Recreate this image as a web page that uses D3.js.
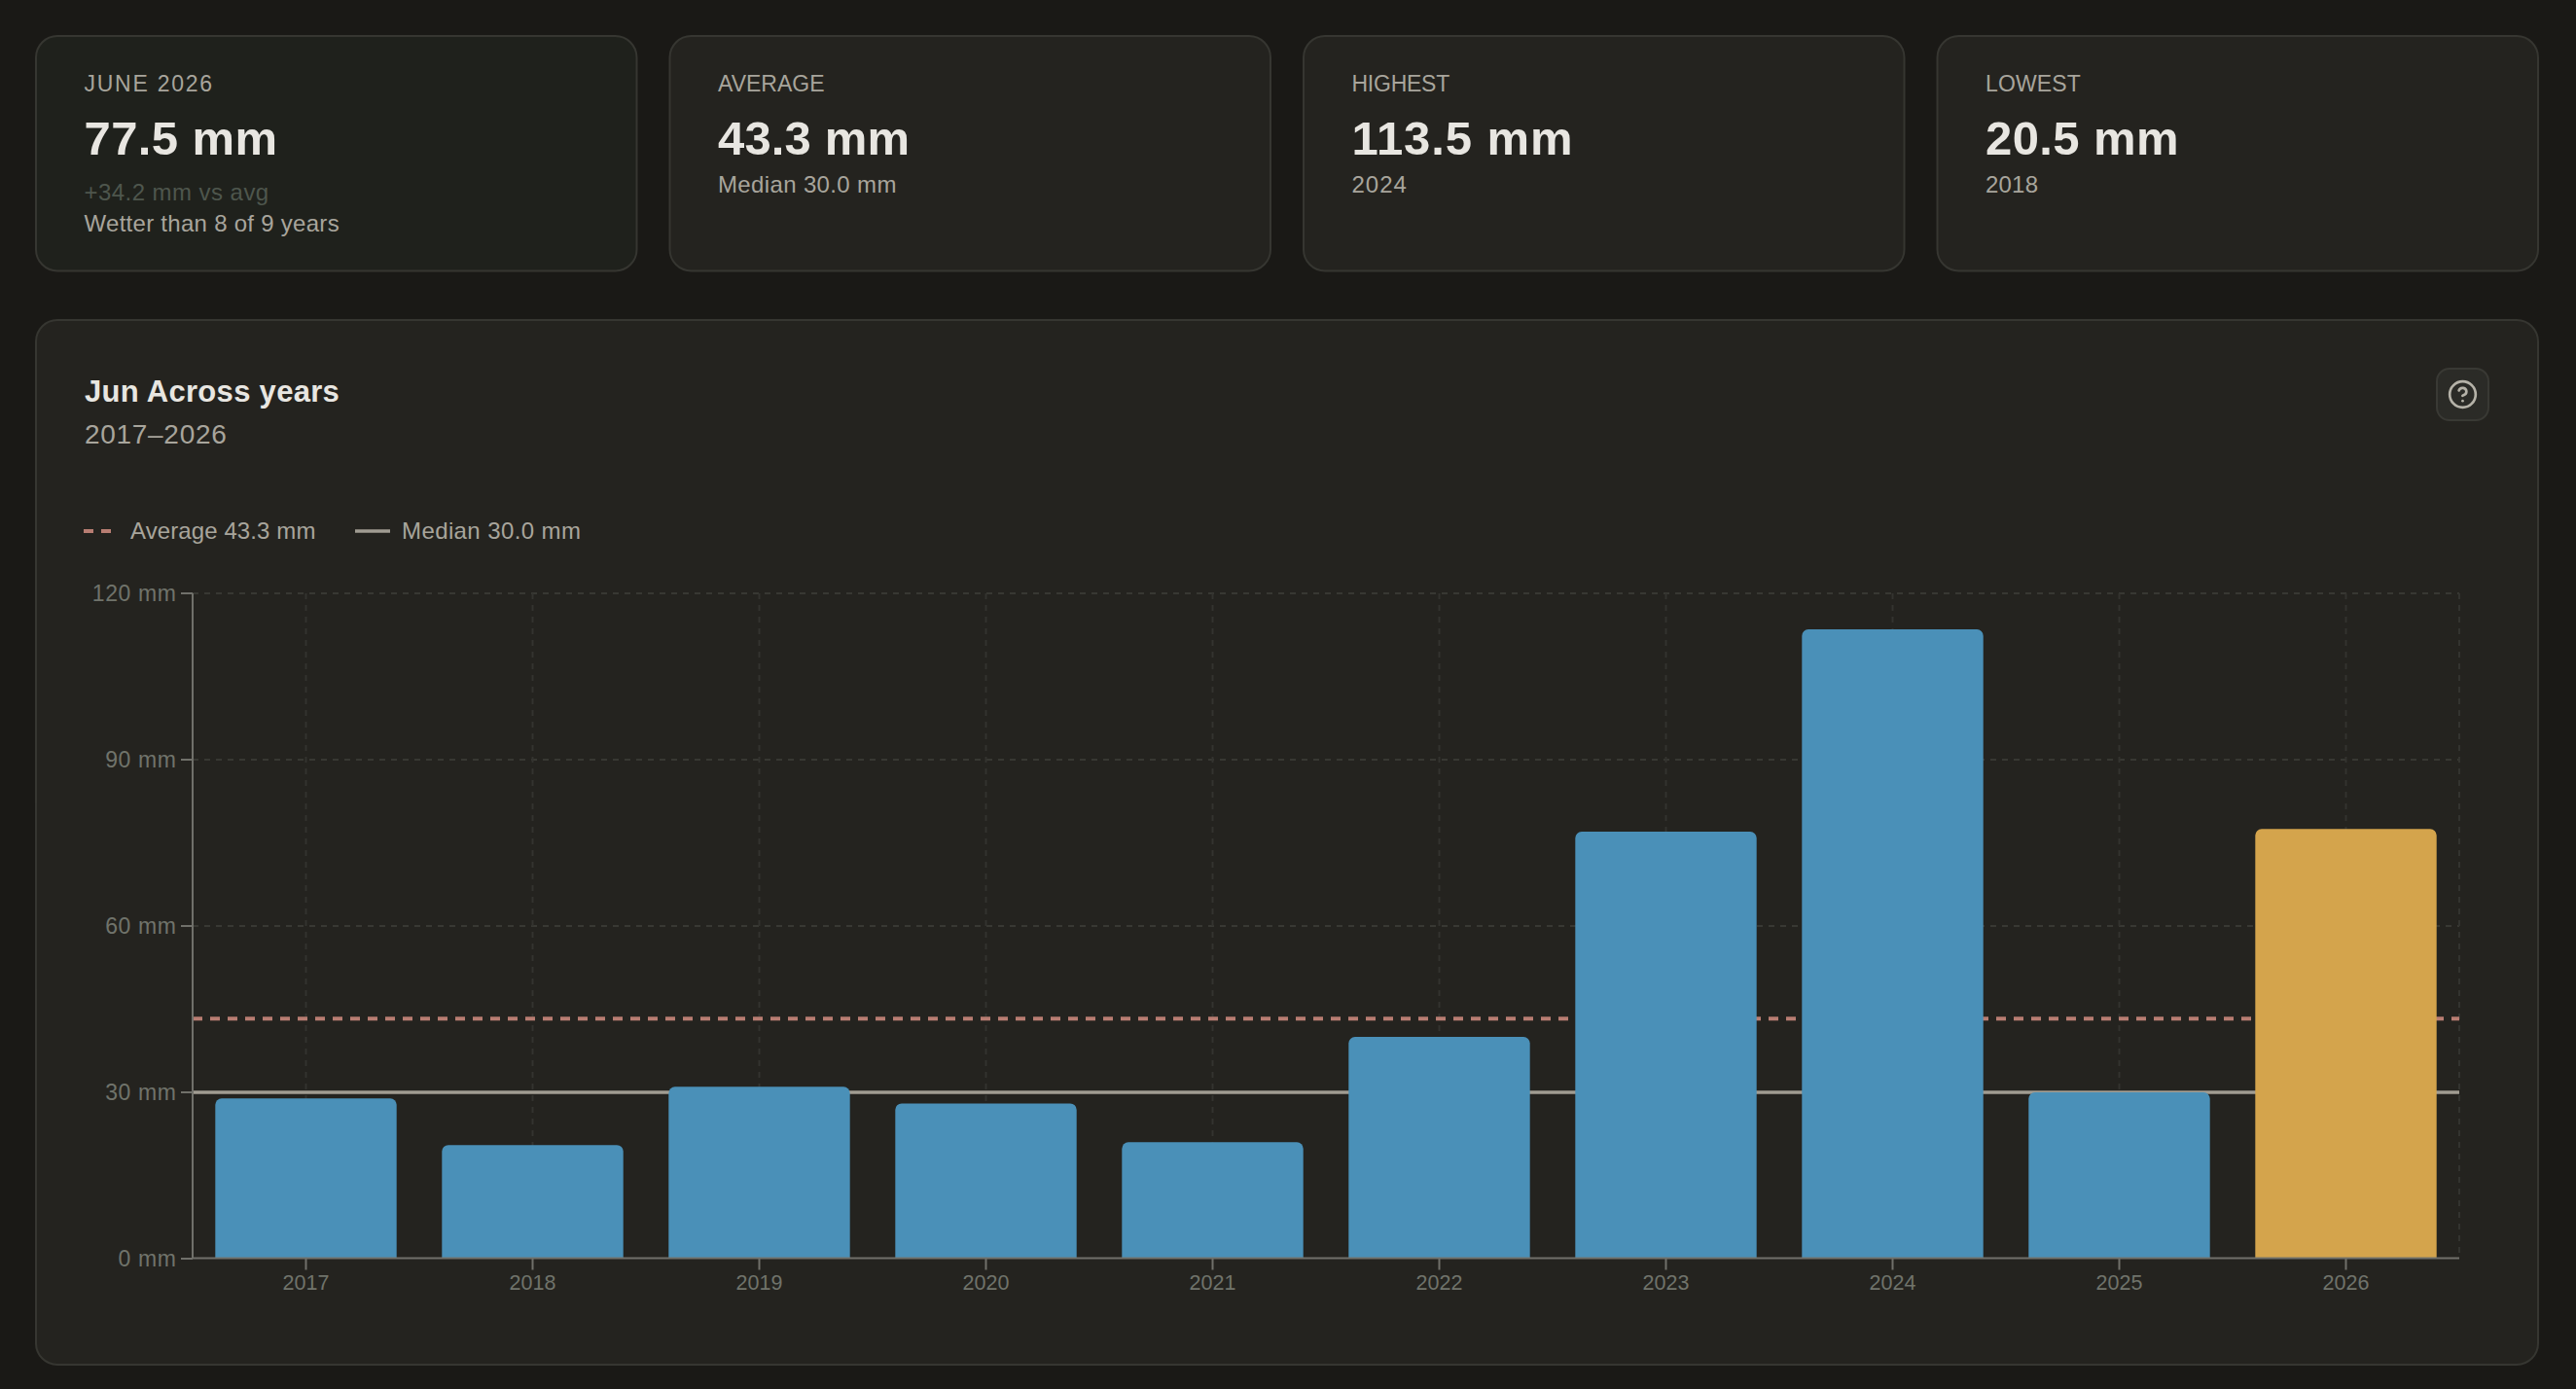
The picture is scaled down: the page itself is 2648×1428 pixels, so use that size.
<!DOCTYPE html>
<html><head><meta charset="utf-8">
<style>html,body{margin:0;padding:0;background:#1a1916;overflow:hidden}svg{display:block}text{font-family:"Liberation Sans",sans-serif}</style>
<script src="https://cdn.jsdelivr.net/npm/d3@7"></script>
</head><body><svg id="c"></svg>
<script>
const years = [2017,2018,2019,2020,2021,2022,2023,2024,2025,2026];
const rainfall = [28.9,20.5,31.0,28.0,21.0,40.0,77.0,113.5,30.0,77.5];
const currentYear = 2026;
const averageValue = 43.3;
const medianValue = 30.0;
const yTicks = [0,30,60,90,120];
const cardLabels = ["JUNE 2026","AVERAGE","HIGHEST","LOWEST"];
const cardValues = ["77.5 mm","43.3 mm","113.5 mm","20.5 mm"];
const cardSubs = [["+34.2 mm vs avg","Wetter than 8 of 9 years"],["Median 30.0 mm"],["2024"],["2018"]];
const legendLabels = ["Average 43.3 mm","Median 30.0 mm"];
const titleText = "Jun Across years";
const subtitleText = "2017–2026";

// typographic fitting (separate from the data)
const labelTracking=[1.75,0,-0.25,0.15];
const valueTracking=[0.4,0.15,0.9,0.4];
const subTracking=[[0.45,0.28],[0.36],[1.0],[0.2]];

const W=2648,H=1428;
const svg=d3.select("#c").attr("width",W).attr("height",H).attr("viewBox",[0,0,W,H]);
svg.append("rect").attr("width",W).attr("height",H).attr("fill","#1a1916");

const cardX=d3.scaleBand().domain(d3.range(4)).range([36,2610]).paddingInner(32/651.5);
const cards=svg.selectAll("g.card").data(cardLabels).join("g").attr("class","card")
  .attr("transform",(d,i)=>`translate(${cardX(i)},36)`);
cards.append("rect").attr("x",1).attr("y",1).attr("width",cardX.bandwidth()-2).attr("height",241.5).attr("rx",22)
  .attr("fill",(d,i)=>i===0?"#1f211c":"#24231f").attr("stroke","#363631").attr("stroke-width",2);
cards.append("text").attr("x",50.5).attr("y",58).attr("font-size",23).attr("letter-spacing",(d,i)=>labelTracking[i]).attr("fill","#a8a59c").text(d=>d);
cards.append("text").attr("x",50.5).attr("y",123).attr("font-size",49).attr("font-weight",700).attr("letter-spacing",(d,i)=>valueTracking[i]).attr("fill","#e8e6e1").text((d,i)=>cardValues[i]);
cards.each(function(d,i){
  const g=d3.select(this), subs=cardSubs[i];
  subs.forEach((s,j)=>{
    const dim=subs.length===2&&j===0;
    g.append("text").attr("x",50.5).attr("y",subs.length===2?(j===0?170:202):162)
      .attr("font-size",24).attr("letter-spacing",subTracking[i][j]).attr("fill",dim?"#4e564d":"#a8a59c").text(s);
  });
});

svg.append("rect").attr("x",37).attr("y",329).attr("width",2572).attr("height",1074).attr("rx",22)
  .attr("fill","#24231f").attr("stroke","#363631").attr("stroke-width",2);
svg.append("text").attr("x",87).attr("y",413).attr("font-size",31).attr("font-weight",700).attr("letter-spacing",0.3).attr("fill","#e8e6e1").text(titleText);
svg.append("text").attr("x",87).attr("y",456).attr("font-size",28).attr("letter-spacing",0.7).attr("fill","#a8a59c").text(subtitleText);

const help=svg.append("g").attr("transform","translate(2504,378)");
help.append("rect").attr("x",1).attr("y",1).attr("width",53).attr("height",53).attr("rx",13).attr("fill","#2b2b27").attr("stroke","#393934").attr("stroke-width",2);
const ic=help.append("g").attr("transform","translate(11.5,11.5) scale(1.333)").attr("fill","none").attr("stroke","#b5b2a8").attr("stroke-width",2).attr("stroke-linecap","round").attr("stroke-linejoin","round");
ic.append("circle").attr("cx",12).attr("cy",12).attr("r",10);
ic.append("path").attr("d","M9.09 9a3 3 0 0 1 5.83 1c0 2-3 3-3 3");
ic.append("path").attr("d","M12 17h.01");

const x=d3.scaleBand().domain(years).range([198,2528]).paddingInner(0.2).paddingOuter(0.1);
const y=d3.scaleLinear().domain([0,120]).range([1294,610]);

const grid=svg.append("g");
grid.selectAll("line.h").data(yTicks.slice(1)).join("line").attr("class","h")
  .attr("x1",198).attr("x2",2528).attr("y1",d=>y(d)).attr("y2",d=>y(d))
  .attr("stroke","#383833").attr("stroke-width",2).attr("stroke-dasharray","6 6");
grid.selectAll("line.v").data(years).join("line").attr("class","v")
  .attr("x1",d=>x(d)+x.bandwidth()/2).attr("x2",d=>x(d)+x.bandwidth()/2).attr("y1",610).attr("y2",1294)
  .attr("stroke","#33332f").attr("stroke-width",2).attr("stroke-dasharray","6 6");
grid.append("line").attr("x1",2528).attr("x2",2528).attr("y1",610).attr("y2",1294)
  .attr("stroke","#33332f").attr("stroke-width",2).attr("stroke-dasharray","6 6");

svg.append("line").attr("x1",x.range()[0]).attr("x2",x.range()[1]).attr("y1",y(averageValue)).attr("y2",y(averageValue))
  .attr("stroke","#b87d72").attr("stroke-width",4).attr("stroke-dasharray","10 8");
svg.append("line").attr("x1",x.range()[0]).attr("x2",x.range()[1]).attr("y1",y(medianValue)).attr("y2",y(medianValue))
  .attr("stroke","#a09c92").attr("stroke-width",3.5);

const r=6.6;
svg.append("g").selectAll("path").data(years).join("path")
  .attr("fill",d=>d===currentYear?"#d4a44c":"#4a90b8")
  .attr("d",(d,i)=>{
    const a=x(d),w=x.bandwidth(),t=y(rainfall[i]),b=y(0);
    return `M${a},${b}V${t+r}A${r},${r} 0 0 1 ${a+r},${t}H${a+w-r}A${r},${r} 0 0 1 ${a+w},${t+r}V${b}Z`;
  });

const axisColor="#70706a",tickColor="#70736b";
const xAxis=svg.append("g").attr("transform","translate(0,1293.5)")
  .call(d3.axisBottom(x).offset(0).tickSize(12).tickPadding(5).tickSizeOuter(0));
const yAxis=svg.append("g").attr("transform","translate(198,0)")
  .call(d3.axisLeft(y).offset(0).tickValues(yTicks).tickSize(12).tickPadding(4.5).tickSizeOuter(0).tickFormat(d=>d+" mm"));
[xAxis,yAxis].forEach(a=>{
  a.select(".domain").attr("stroke",axisColor).attr("stroke-width",2);
  a.selectAll(".tick line").attr("stroke",axisColor).attr("stroke-width",2);
  a.selectAll("text").attr("fill",tickColor).style("font-family",'"Liberation Sans",sans-serif');
});
xAxis.selectAll("text").attr("font-size",21.5);
yAxis.selectAll("text").attr("font-size",23).attr("letter-spacing",0.6).attr("dy","0.36em");

const lg=svg.append("g");
lg.append("line").attr("x1",86).attr("x2",114).attr("y1",546).attr("y2",546).attr("stroke","#b87d72").attr("stroke-width",4).attr("stroke-dasharray","10 8");
lg.append("text").attr("x",134).attr("y",554).attr("font-size",24).attr("letter-spacing",0.1).attr("fill","#a8a59c").text(legendLabels[0]);
lg.append("line").attr("x1",365).attr("x2",401).attr("y1",546).attr("y2",546).attr("stroke","#a09c92").attr("stroke-width",3.5);
lg.append("text").attr("x",413).attr("y",554).attr("font-size",24).attr("letter-spacing",0.4).attr("fill","#a8a59c").text(legendLabels[1]);
</script></body></html>
